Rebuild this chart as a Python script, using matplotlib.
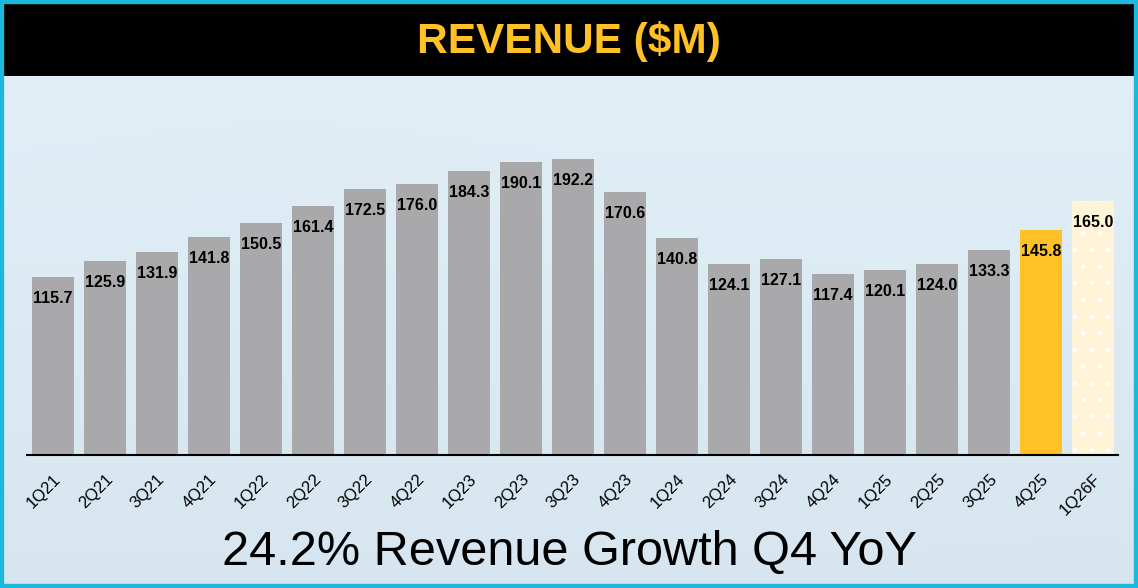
import numpy as np
import matplotlib.pyplot as plt
import matplotlib.patches as patches

plt.rcParams['font.family'] = ['Liberation Sans', 'DejaVu Sans']
plt.rcParams['hatch.linewidth'] = 0.8

quarters = ['1Q21', '2Q21', '3Q21', '4Q21', '1Q22', '2Q22', '3Q22', '4Q22',
            '1Q23', '2Q23', '3Q23', '4Q23', '1Q24', '2Q24', '3Q24', '4Q24',
            '1Q25', '2Q25', '3Q25', '4Q25', '1Q26F']
revenue = [115.7, 125.9, 131.9, 141.8, 150.5, 161.4, 172.5, 176.0,
           184.3, 190.1, 192.2, 170.6, 140.8, 124.1, 127.1, 117.4,
           120.1, 124.0, 133.3, 145.8, 165.0]
title = 'REVENUE ($M)'
subtitle = '24.2% Revenue Growth Q4 YoY'

gray = '#A9A9AB'
gold = '#FFC125'
cream = '#FFF3D8'
frame = '#1DB8DC'

W, H = 1138, 588
fig = plt.figure(figsize=(W / 100, H / 100), dpi=100)

# background gradient
bg = fig.add_axes([0, 0, 1, 1], zorder=0)
bg.axis('off')
ny = np.linspace(0, 1, 200)[:, None]
c_top = np.array([0.89, 0.94, 0.97])
c_bot = np.array([0.84, 0.90, 0.94])
grad = c_top[None, None, :] * (1 - ny[..., None]) + c_bot[None, None, :] * ny[..., None]
grad = np.repeat(grad, 300, axis=1)
# faint blurred blobs
yy, xx = np.mgrid[0:200, 0:300] / np.array([200, 300])[:, None, None]
for cx, cy, sx, sy, amt in [(0.25, 0.25, 0.12, 0.08, 0.05), (0.12, 0.75, 0.1, 0.12, 0.04),
                            (0.6, 0.85, 0.15, 0.08, 0.03), (0.95, 0.9, 0.1, 0.1, 0.05)]:
    g = np.exp(-((xx - cx) ** 2 / (2 * sx ** 2) + (yy - cy) ** 2 / (2 * sy ** 2)))
    grad = grad * (1 - amt * g[..., None]) + 0.88 * amt * g[..., None]
bg.imshow(np.clip(grad, 0, 1), extent=[0, 1, 0, 1], aspect='auto', origin='upper')
bg.set_xlim(0, 1)
bg.set_ylim(0, 1)

# black header band
fig.patches.append(patches.Rectangle((2 / W, 1 - 76 / H), 1134 / W, 72 / H,
                                     transform=fig.transFigure, facecolor='black',
                                     edgecolor='none', zorder=1))
fig.text(0.5, 1 - 42 / H, title, color=gold, fontsize=30.5, fontweight='bold',
         ha='center', va='center', zorder=3)

# cyan frame
fig.patches.append(patches.Rectangle((0, 0), 1, 1, transform=fig.transFigure,
                                     facecolor='none', edgecolor=frame,
                                     linewidth=6, zorder=4))

# bars
ax = fig.add_axes([27 / W, (H - 455) / H, (1118 - 27) / W, 308 / H], zorder=2)
ax.patch.set_alpha(0)
x = np.arange(len(quarters))
colors = [gray] * (len(quarters) - 2) + [gold, cream]
bars = ax.bar(x, revenue, width=0.79, color=colors, edgecolor='none', zorder=2)
bars[-1].set_hatch('.')
bars[-1].set_edgecolor('white')
bars[-1].set_linewidth(0)

for xi, v in zip(x, revenue):
    ax.annotate(f'{v:.1f}', (xi, v), xytext=(0, -10), textcoords='offset points',
                ha='center', va='top', fontsize=11.5, fontweight='bold', color='black')

ax.set_xlim(-0.5, 20.48)
ax.set_ylim(0, 200)
ax.set_yticks([])
ax.set_xticks(x)
ax.set_xticklabels(quarters, rotation=45, ha='right', rotation_mode='anchor', fontsize=12)
ax.tick_params(axis='x', length=0, pad=12)
for s in ['top', 'right', 'left']:
    ax.spines[s].set_visible(False)
ax.spines['bottom'].set_linewidth(1.5)
ax.spines['bottom'].set_color('black')

fig.text(0.5, 1 - 553 / H, subtitle, fontsize=35, ha='center', va='center',
         color='black', zorder=3)

fig.savefig('out.png', dpi=100)
